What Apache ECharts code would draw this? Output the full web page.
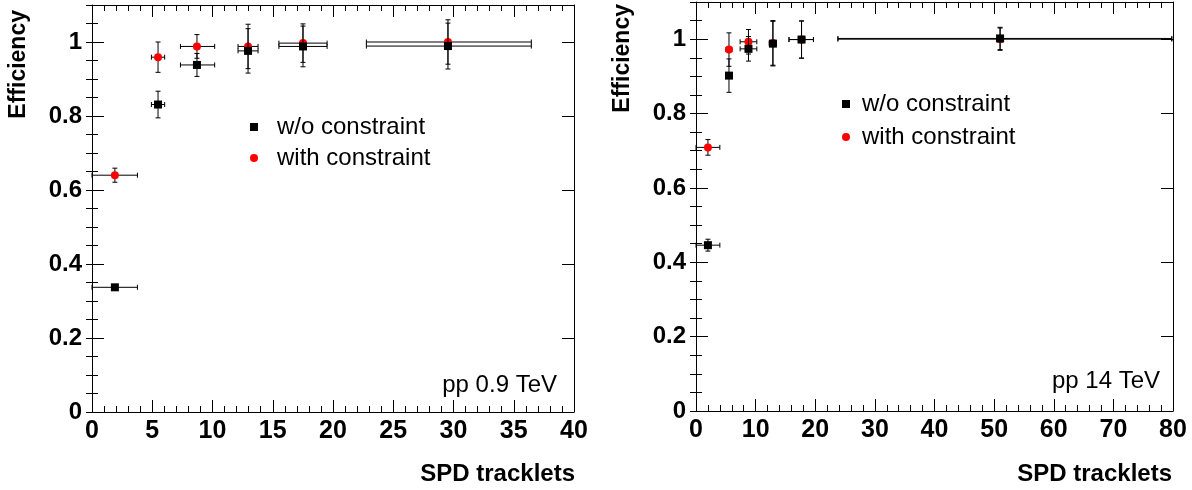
<!DOCTYPE html>
<html>
<head>
<meta charset="utf-8">
<script src="https://cdn.jsdelivr.net/npm/echarts@6/dist/echarts.min.js"></script>
<style>
html,body{margin:0;padding:0;background:#fff;}
#chart{width:1192px;height:490px;}
</style>
</head>
<body>
<div id="chart"></div>
<script>
// ---- Data: pp 0.9 TeV (left panel) ----
const xLeft         = [1.9, 5.48, 8.71, 12.95, 17.51, 29.54];
const xLeftErrLow   = [1.9, 0.55, 1.37, 0.83, 2.0, 6.77];
const xLeftErrHigh  = [1.87, 0.55, 1.47, 0.83, 2.0, 6.92];
const effLeftWo     = [0.337, 0.831, 0.938, 0.976, 0.988, 0.989];
const errLeftWo     = [0.005, 0.036, 0.031, 0.060, 0.055, 0.062];
const effLeftWith   = [0.640, 0.959, 0.988, 0.988, 0.997, 1.000];
const errLeftWith   = [0.019, 0.041, 0.032, 0.060, 0.052, 0.060];

// ---- Data: pp 14 TeV (right panel) ----
const xRight        = [2.0, 5.53, 8.8, 12.9, 17.7, 51.0];
const xRightErrLow  = [2.0, 0.5, 1.4, 0.6, 2.1, 27.2];
const xRightErrHigh = [2.0, 0.5, 1.4, 0.6, 2.0, 28.8];
const effRightWo    = [0.446, 0.902, 0.974, 0.988, 0.999, 1.002];
const errRightWo    = [0.016, 0.045, 0.033, 0.060, 0.050, 0.030];
const effRightWith  = [0.709, 0.972, 0.993, 0.990, 0.999, 1.000];
const errRightWith  = [0.021, 0.045, 0.033, 0.060, 0.050, 0.030];

// ---- Axis / text labels ----
const seriesNames = ['w/o constraint', 'with constraint'];
const panelLabels = ['pp 0.9 TeV', 'pp 14 TeV'];
const xTitle = 'SPD tracklets';
const yTitle = 'Efficiency';
const xMaxLeft = 40, xIntLeft = 5;
const xMaxRight = 80, xIntRight = 10;
const yMax = 1.1, yInt = 0.2, yMinorInt = 0.05;

const FONT = '"Liberation Sans", Arial, Helvetica, sans-serif';
const TICKFONT = '"Liberation Sans", Arial, sans-serif';

function pts(x, y, exl, exh, ey) {
  return x.map((v, i) => [v, y[i], exl[i], exh[i], ey[i], ey[i]]);
}

function errRender(params, api) {
  const x = api.value(0), y = api.value(1);
  const xl = api.value(2), xh = api.value(3), yl = api.value(4), yh = api.value(5);
  const pL = api.coord([x - xl, y]), pR = api.coord([x + xh, y]);
  const pB = api.coord([x, y - yl]), pT = api.coord([x, y + yh]);
  const cap = 2.5;
  const st = {stroke: '#000', lineWidth: 1};
  const L = (x1, y1, x2, y2) => ({type: 'line', shape: {x1, y1, x2, y2}, style: st});
  return {
    type: 'group',
    children: [
      L(pL[0], pL[1], pR[0], pR[1]),
      L(pL[0], pL[1] - cap, pL[0], pL[1] + cap),
      L(pR[0], pR[1] - cap, pR[0], pR[1] + cap),
      L(pB[0], pB[1], pT[0], pT[1]),
      L(pB[0] - cap, pB[1], pB[0] + cap, pB[1]),
      L(pT[0] - cap, pT[1], pT[0] + cap, pT[1])
    ]
  };
}

const lineStyle = {color: '#000', width: 1};

function xAxes(gridIndex, max, interval) {
  const base = {
    type: 'value', gridIndex, min: 0, max, interval,
    splitLine: {show: false},
    axisLine: {show: true, onZero: false, lineStyle},
    axisTick: {show: true, inside: true, length: 12, lineStyle},
    minorTick: {show: true, splitNumber: 5, length: 6, lineStyle},
    minorSplitLine: {show: false}
  };
  return [
    Object.assign({}, base, {
      position: 'bottom',
      axisLabel: {show: true, margin: 7, color: '#000', fontSize: 25, fontWeight: 'bold', fontFamily: TICKFONT}
    }),
    Object.assign({}, base, {position: 'top', axisLabel: {show: false}})
  ];
}

function yAxes(gridIndex) {
  const major = {
    type: 'value', gridIndex, min: 0, max: yMax, interval: yInt,
    splitLine: {show: false},
    axisLine: {show: true, onZero: false, lineStyle},
    axisTick: {show: true, inside: true, length: 12, lineStyle}
  };
  const minor = {
    type: 'value', gridIndex, min: 0, max: yMax, interval: yMinorInt,
    splitLine: {show: false},
    axisLine: {show: false},
    axisLabel: {show: false},
    axisTick: {show: true, inside: true, length: 6, lineStyle}
  };
  return [
    Object.assign({}, major, {
      position: 'left',
      axisLabel: {
        show: true, margin: 10, color: '#000', fontSize: 24, fontWeight: 'bold', fontFamily: TICKFONT,
        formatter: v => (v > 1.05 ? '' : String(+v.toFixed(1)))
      }
    }),
    Object.assign({}, minor, {position: 'left'}),
    Object.assign({}, major, {position: 'right', axisLabel: {show: false}}),
    Object.assign({}, minor, {position: 'right'})
  ];
}

function panelSeries(xi, yi, x, exl, exh, yWo, eWo, yWith, eWith) {
  return [
    {type: 'custom', name: seriesNames[1], xAxisIndex: xi, yAxisIndex: yi, renderItem: errRender,
     data: pts(x, yWith, exl, exh, eWith), z: 2, silent: true, itemStyle: {color: '#ff0000'}},
    {type: 'scatter', name: seriesNames[1], xAxisIndex: xi, yAxisIndex: yi, symbol: 'circle', symbolSize: 8,
     itemStyle: {color: '#ff0000', opacity: 1}, data: x.map((v, i) => [v, yWith[i]]), z: 3},
    {type: 'custom', name: seriesNames[0], xAxisIndex: xi, yAxisIndex: yi, renderItem: errRender,
     data: pts(x, yWo, exl, exh, eWo), z: 4, silent: true, itemStyle: {color: '#000'}},
    {type: 'scatter', name: seriesNames[0], xAxisIndex: xi, yAxisIndex: yi, symbol: 'rect', symbolSize: 8,
     itemStyle: {color: '#000', opacity: 1}, data: x.map((v, i) => [v, yWo[i]]), z: 5}
  ];
}

function legendAt(left, top, gap, textPad) {
  return {
    orient: 'vertical', left, top, itemWidth: 8, itemHeight: 8, itemGap: gap, padding: 0,
    selectedMode: false,
    textStyle: {fontSize: 24, color: '#000', fontFamily: FONT, padding: [0, 0, 0, textPad]},
    data: [{name: seriesNames[0], icon: 'rect', itemStyle: {opacity: 1}},
           {name: seriesNames[1], icon: 'circle', itemStyle: {opacity: 1}}]
  };
}

const titleText = (text, right, top, bold) => ({
  text, right, top, padding: 0,
  textStyle: {fontSize: 24, fontWeight: bold ? 'bold' : 'normal', color: '#000', fontFamily: FONT}
});

const chart = echarts.init(document.getElementById('chart'), null, {renderer: 'canvas'});
chart.setOption({
  animation: false,
  backgroundColor: '#fff',
  grid: [
    {left: 92, top: 5, width: 482, height: 407},
    {left: 696, top: 2, width: 477, height: 409}
  ],
  xAxis: [].concat(xAxes(0, xMaxLeft, xIntLeft), xAxes(1, xMaxRight, xIntRight)),
  yAxis: [].concat(yAxes(0), yAxes(1)),
  legend: [legendAt(250, 115, 7, 14), legendAt(842, 92, 9, 7)],
  title: [
    titleText(panelLabels[0], 1192 - 557, 373, false),
    titleText(panelLabels[1], 1192 - 1160, 369, false),
    titleText(xTitle, 1192 - 575, 462, true),
    titleText(xTitle, 1192 - 1172, 462, true)
  ],
  graphic: [
    {type: 'text', x: 19, y: 10, rotation: Math.PI / 2,
     style: {text: yTitle, fontSize: 23, fontWeight: 'bold', fontFamily: FONT, fill: '#000', align: 'right', verticalAlign: 'middle'}},
    {type: 'text', x: 623, y: 4, rotation: Math.PI / 2,
     style: {text: yTitle, fontSize: 23, fontWeight: 'bold', fontFamily: FONT, fill: '#000', align: 'right', verticalAlign: 'middle'}}
  ],
  series: [].concat(
    panelSeries(0, 0, xLeft, xLeftErrLow, xLeftErrHigh, effLeftWo, errLeftWo, effLeftWith, errLeftWith),
    panelSeries(2, 4, xRight, xRightErrLow, xRightErrHigh, effRightWo, errRightWo, effRightWith, errRightWith)
  )
});
</script>
</body>
</html>
